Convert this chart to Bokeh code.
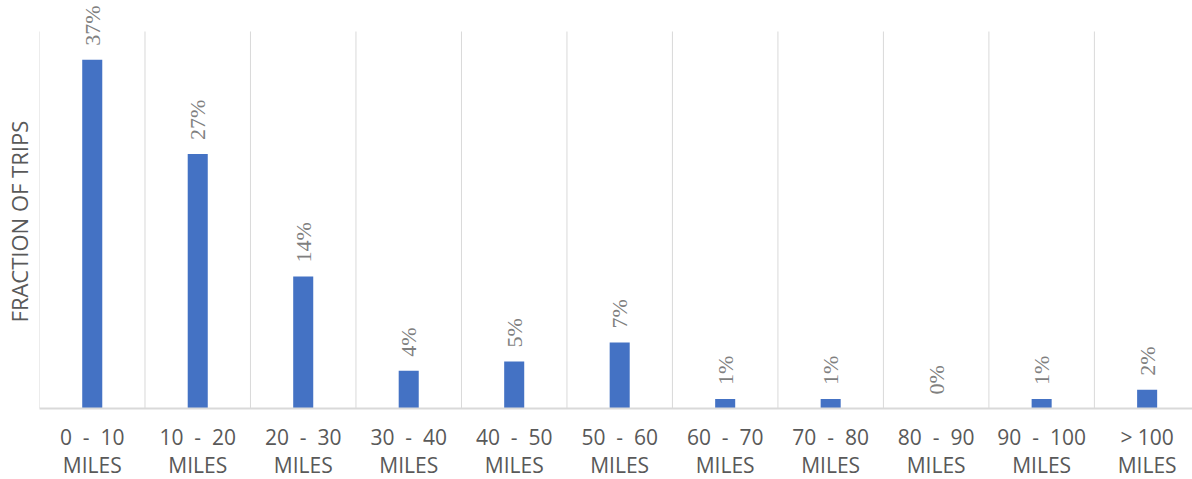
import math
from bokeh.plotting import figure
from bokeh.models import ColumnDataSource, Range1d, FixedTicker, LabelSet
from bokeh.embed import file_html
from bokeh.resources import INLINE

NB = "\u00a0"
# Trip-distance buckets and the share of trips falling into each
range_lo = ["0", "10", "20", "30", "40", "50", "60", "70", "80", "90"]
range_hi = ["10", "20", "30", "40", "50", "60", "70", "80", "90", "100"]
categories = [f"{a}{NB} -{NB} {b}\nMILES" for a, b in zip(range_lo, range_hi)] + ["> 100\nMILES"]
share_pct = [37, 27, 14, 4, 5, 7, 1, 1, 0, 1, 2]
y_title = "FRACTION OF TRIPS"

FONT = "Open Sans"
Y_MAX = 40
idx = list(range(len(categories)))
src = ColumnDataSource(dict(x=idx, top=share_pct, label=[f"{v}%" for v in share_pct]))

# frame reaches the top edge so the rotated value labels are never clipped
p = figure(frame_width=1153, frame_height=408, min_border_left=39, min_border_top=0,
           min_border_right=0, min_border_bottom=71,
           x_range=Range1d(-0.5, 10.43), y_range=Range1d(0, Y_MAX * 408 / 377),
           output_backend="svg", toolbar_location=None, tools="")
p.outline_line_color = None
p.background_fill_color = "white"
p.xgrid.grid_line_color = None
p.ygrid.grid_line_color = None

# vertical separators between buckets
bounds = [i - 0.5 for i in idx]
p.segment(x0=bounds, y0=[0] * len(bounds), x1=bounds, y1=[Y_MAX] * len(bounds),
          line_color="#D9D9D9", line_width=1)

p.vbar(x="x", top="top", width=0.19, bottom=0, source=src,
       fill_color="#4472C4", line_color=None)

labels = LabelSet(x="x", y="top", text="label", source=src, angle=math.pi / 2,
                  text_align="left", text_baseline="middle", y_offset=14,
                  text_color="#7F7F7F", text_font=FONT, text_font_size="22px")
p.add_layout(labels)

xa = p.xaxis[0]
xa.ticker = FixedTicker(ticks=idx)
xa.major_label_overrides = {i: c for i, c in zip(idx, categories)}
xa.major_tick_line_color = None
xa.minor_tick_line_color = None
xa.axis_line_color = "#D9D9D9"
xa.axis_line_width = 2
xa.major_label_standoff = 8
xa.major_label_text_font = FONT
xa.major_label_text_font_size = "21px"
xa.major_label_text_line_height = 1.0
xa.major_label_text_color = "#595959"

ya = p.yaxis[0]
ya.ticker = FixedTicker(ticks=[])
# trailing no-break spaces centre the title on the bar area rather than the full frame
ya.axis_label = y_title + NB * 6
ya.axis_label_text_font = FONT
ya.axis_label_text_font_size = "22px"
ya.axis_label_text_font_style = "normal"
ya.axis_label_text_color = "#595959"
ya.axis_label_standoff = 6
ya.major_tick_line_color = None
ya.minor_tick_line_color = None
ya.axis_line_color = None
ya.major_label_standoff = 0

open("out.html", "w").write(file_html(p, INLINE))
